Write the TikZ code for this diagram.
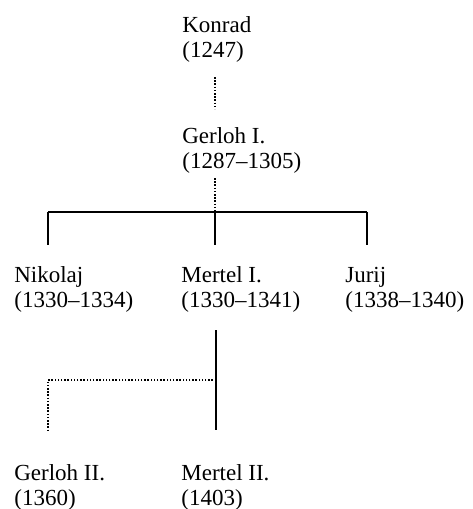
\documentclass[tikz,border=0pt]{standalone}
\usepackage{fontspec}
\setmainfont{Liberation Serif}
\tikzset{every picture/.style={line width=1.2pt}}

\begin{document}
\begin{tikzpicture}[x=1pt,y=1pt,yscale=-1,xscale=1,
  person/.style={anchor=base west,inner sep=0.75pt,align=left,font=\fontsize{23}{25}\selectfont},
  kin/.style={draw,line width=1.4pt},
  kindot/.style={draw,line width=1.5pt,dash pattern=on 1.5pt off 1.7pt}]
%set diagram left start at 0, and has height of 509
\useasboundingbox (0,0) rectangle (472,509);

% Text Node
\node[person] (konrad) at (181,57) {Konrad\\(1247)};
% Text Node
\node[person] (gerlohI) at (181,168) {Gerloh I.\\(1287--1305)};
% Text Node
\node[person] (nikolaj) at (13,307) {Nikolaj\\(1330--1334)};
% Text Node
\node[person] (mertelI) at (180,307) {Mertel I.\\(1330--1341)};
% Text Node
\node[person] (jurij) at (344,307) {Jurij\\(1338--1340)};
% Text Node
\node[person] (gerlohII) at (13,505) {Gerloh II.\\(1360)};
% Text Node
\node[person] (mertelII) at (180,505) {Mertel II.\\(1403)};

\coordinate (kfoot) at (215,77);
\coordinate (ghead) at (215,109);
\coordinate (gfoot) at (215,178);
\coordinate (fork) at (215,212);
\coordinate (forkL) at (48,212);
\coordinate (forkR) at (367,212);
\coordinate (mtop) at (216,330);
\coordinate (mbot) at (216,430);
\coordinate (gbend) at (48,380);
\coordinate (gbot) at (48,430);

%Dotted Lines
\draw[kindot] (kfoot) -- (ghead) ;
\draw[kindot] (gfoot) -- (fork) ;
%Straight Lines
\draw[kin] (forkL) -- (forkR) ;
\draw[kin,shorten >=20pt] (forkL) -- (forkL |- nikolaj.north) ;
\draw[kin,shorten >=20pt] (fork) -- (fork |- mertelI.north) ;
\draw[kin,shorten >=20pt] (forkR) -- (forkR |- jurij.north) ;
\draw[kin] (mtop) -- (mbot) ;
%Dotted Lines
\draw[kindot] (mtop |- gbend) -- (gbend) -- (gbot) ;
\end{tikzpicture}
\end{document}
